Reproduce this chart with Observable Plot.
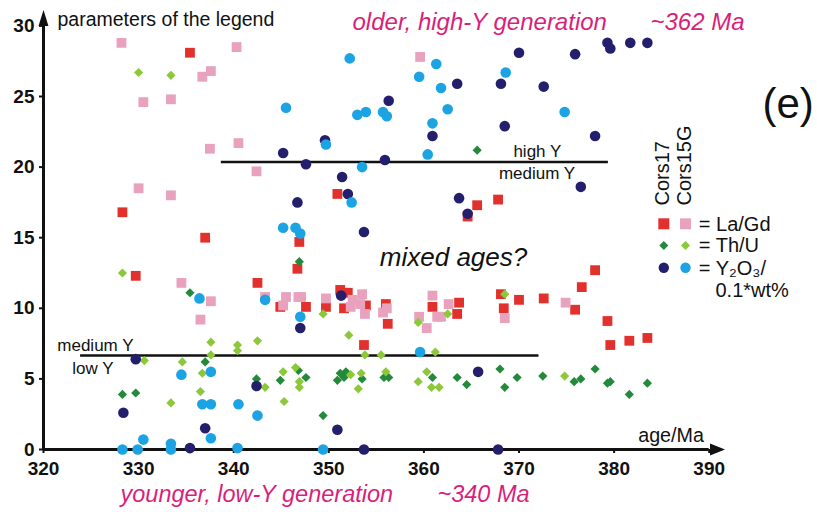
<!DOCTYPE html>
<html>
<head>
<meta charset="utf-8">
<script src="https://cdn.jsdelivr.net/npm/d3@7"></script>
<script src="https://cdn.jsdelivr.net/npm/@observablehq/plot@0.6"></script>
<style>
  html, body { margin: 0; padding: 0; background: #fff; }
  #chart svg { display: block; }
</style>
</head>
<body>
<div id="chart"></div>
<script>
// ---- data: [age (Ma), parameter value] ----
const cors17LaGd = [[335.4,28.1],[328.3,16.8],[329.7,12.3],[337.0,15.0],[342.5,11.8],[344.9,10.1],[350.9,18.1],[364.6,16.5],[365.6,17.3],[367.8,17.7],[346.9,14.7],[346.7,12.8],[347.6,10.1],[349.7,10.1],[351.2,11.3],[352.0,11.1],[351.6,10.0],[353.9,10.2],[356.0,10.3],[356.2,8.9],[353.7,7.4],[360.9,10.1],[363.7,10.4],[363.5,9.6],[368.1,11.0],[368.4,10.0],[370.0,10.6],[372.6,10.7],[376.6,11.5],[378.0,12.7],[375.9,9.9],[379.3,9.1],[379.6,7.4],[381.6,7.7],[383.5,7.9]];
const cors15GLaGd = [[328.2,28.8],[330.5,24.6],[333.4,24.8],[336.7,26.4],[337.6,26.8],[340.3,28.5],[337.5,21.3],[340.5,21.7],[330.0,18.5],[333.4,18.0],[342.4,19.7],[334.5,11.8],[337.6,10.5],[336.5,9.2],[343.3,10.8],[345.2,10.2],[345.5,10.8],[346.8,10.8],[347.1,10.8],[349.7,10.7],[352.3,10.1],[352.5,10.6],[353.3,10.3],[353.5,11.0],[353.8,9.6],[355.7,9.7],[356.1,10.0],[359.5,9.4],[360.3,8.6],[360.9,10.9],[361.4,9.4],[361.8,9.4],[362.6,10.3],[368.5,9.3],[359.6,27.8],[374.9,10.4]];
const cors17ThU = [[365.6,21.2],[346.9,13.3],[335.4,11.1],[328.3,3.9],[329.7,4.0],[337.0,6.2],[342.4,5.0],[344.9,4.9],[346.8,5.6],[347.6,5.1],[349.4,2.4],[350.9,4.9],[351.2,5.4],[351.6,5.1],[351.8,5.5],[353.5,5.0],[355.8,5.1],[356.3,5.1],[360.9,5.1],[363.5,5.1],[364.5,4.6],[368.0,5.7],[368.5,4.4],[369.8,5.1],[372.5,5.2],[375.8,4.8],[376.5,5.0],[378.0,5.7],[379.3,4.7],[379.6,4.8],[381.6,3.9],[383.5,4.7]];
const cors15GThU = [[330.0,26.7],[333.4,26.5],[328.3,12.5],[330.6,6.3],[334.6,6.2],[337.6,7.6],[337.6,6.7],[336.7,5.4],[336.5,4.1],[333.4,3.3],[340.4,7.4],[340.4,7.0],[342.5,7.7],[343.3,4.4],[345.2,5.5],[346.5,5.8],[346.9,4.8],[346.9,4.4],[345.3,3.4],[349.4,9.6],[352.1,8.1],[353.8,6.7],[355.5,6.7],[352.3,5.3],[353.4,5.4],[353.1,4.3],[356.0,5.5],[359.4,9.0],[359.4,4.8],[360.3,5.5],[360.8,4.4],[361.6,4.4],[361.2,6.9],[362.5,9.6],[368.5,11.0],[374.8,5.2]];
const cors17Y2O3 = [[370.0,28.1],[363.5,25.9],[368.1,25.9],[372.6,25.7],[356.3,24.7],[368.5,22.9],[360.9,22.2],[349.6,21.9],[345.2,21.0],[347.6,20.2],[355.9,20.5],[351.4,19.3],[352.0,18.1],[346.7,17.5],[363.7,17.8],[364.6,16.7],[353.7,15.4],[351.3,10.9],[347.0,8.6],[379.3,28.8],[379.6,28.4],[381.7,28.8],[383.5,28.8],[375.9,28.0],[378.0,22.2],[376.5,18.6],[329.7,6.4],[328.4,2.6],[337.0,1.5],[335.4,0.1],[342.4,4.5],[365.7,5.5],[350.9,1.4],[353.7,0],[367.8,0]];
const cors15GY2O3 = [[352.2,27.7],[361.3,27.3],[359.5,26.4],[361.8,25.6],[368.6,26.7],[345.5,24.2],[353.0,23.7],[353.9,23.9],[355.7,23.9],[356.1,23.6],[362.5,24.1],[360.9,23.1],[349.7,21.6],[360.4,20.9],[353.5,20.0],[374.8,23.9],[352.4,17.5],[345.2,15.7],[346.5,15.7],[347.0,15.3],[347.0,9.4],[336.4,10.7],[343.3,10.6],[334.5,5.3],[337.6,5.5],[336.7,3.2],[337.6,3.2],[340.5,3.2],[342.5,2.4],[337.6,0.8],[330.5,0.7],[328.3,0],[329.9,0],[333.4,0.4],[333.4,0],[340.4,0.1],[359.6,6.9],[349.4,0]];

const xTicks = [320, 330, 340, 350, 360, 370, 380, 390];
const yTicks = [0, 5, 10, 15, 20, 25, 30];

// boundaries between Y-content classes
const upperBoundary = {value: 20.36, from: 338.7, to: 379.4, above: "high Y", below: "medium Y"};
const lowerBoundary = {value: 6.66, from: 323.9, to: 372.1, above: "medium Y", below: "low Y"};

const legendRows = ["= La/Gd", "= Th/U", "= Y\u2082O\u2083/"];
const legendExtra = "0.1*wt%";
const sampleNames = ["Cors17", "Cors15G"];

// ---- styling ----
const C = {
  red: "#e2312c", pink: "#e9a2bd",
  dgreen: "#238a3c", lgreen: "#8cc83a",
  navy: "#241f6c", lblue: "#1ba3e3",
  magenta: "#d91f7b"
};
const FONT = "'Liberation Sans', Arial, Helvetica, sans-serif";

const sqSym = {draw(ctx, size) { const r = Math.sqrt(size / Math.PI); ctx.moveTo(-r, -r); ctx.lineTo(r, -r); ctx.lineTo(r, r); ctx.lineTo(-r, r); ctx.closePath(); }};
const diaSym = {draw(ctx, size) { const r = Math.sqrt(size / Math.PI); ctx.moveTo(0, -r); ctx.lineTo(r, 0); ctx.lineTo(0, r); ctx.lineTo(-r, 0); ctx.closePath(); }};
const triUp = {draw(ctx, size) { const r = Math.sqrt(size / Math.PI); ctx.moveTo(0, -r); ctx.lineTo(r * 0.62, r); ctx.lineTo(-r * 0.62, r); ctx.closePath(); }};
const triRight = {draw(ctx, size) { const r = Math.sqrt(size / Math.PI); ctx.moveTo(r, 0); ctx.lineTo(-r, r * 0.8); ctx.lineTo(-r, -r * 0.8); ctx.closePath(); }};

const px = {x: d => d[0], y: d => d[1]};
const series = (data, symbol, r, fill) => Plot.dot(data, {...px, symbol, r, fill, stroke: "none"});

const T = (text, dx, dy, opts = {}) => Plot.text([text], {
  frameAnchor: "top-left", lineAnchor: "middle", dx, dy, text: d => d, textAnchor: "start",
  fontSize: 17, fill: "#111", fontFamily: FONT, ...opts
});
const LD = (symbol, r, fill, dx, dy) => Plot.dot([0], {frameAnchor: "top-left", dx, dy, symbol, r, fill, stroke: "none"});

const legendSymbols = [[sqSym, 5.5, C.red, C.pink], [diaSym, 4.5, C.dgreen, C.lgreen], ["circle", 5.2, C.navy, C.lblue]];
const legendDy = [197.9, 219.6, 241.9];

const chart = Plot.plot({
  width: 817, height: 512,
  marginLeft: 43, marginRight: 108.3, marginTop: 25.4, marginBottom: 63,
  style: {fontFamily: FONT, fontSize: "19px", background: "white", overflow: "visible"},
  x: {domain: [320, 390], ticks: xTicks, tickSize: 4, tickPadding: 8, label: null},
  y: {domain: [0, 30], ticks: yTicks, tickSize: 4, tickPadding: 5, label: null},
  marks: [
    // axes lines with arrows
    Plot.ruleX([xTicks[0]], {y1: yTicks[0], y2: yTicks[yTicks.length - 1], stroke: "#111", strokeWidth: 3}),
    Plot.ruleY([yTicks[0]], {x1: xTicks[0], x2: xTicks[xTicks.length - 1], stroke: "#111", strokeWidth: 3}),
    Plot.dot([0], {frameAnchor: "top-left", dy: -8, symbol: triUp, r: 8, fill: "#111", stroke: "none"}),
    Plot.dot([0], {frameAnchor: "bottom-right", dx: 8.3, symbol: triRight, r: 7.5, fill: "#111", stroke: "none"}),

    // boundary lines
    Plot.ruleY([upperBoundary], {y: "value", x1: "from", x2: "to", stroke: "#111", strokeWidth: 2.5}),
    Plot.ruleY([lowerBoundary], {y: "value", x1: "from", x2: "to", stroke: "#111", strokeWidth: 2.5}),
    Plot.text([upperBoundary], {x: "to", y: "value", text: "above", dx: -95, dy: -10, textAnchor: "start", fontSize: 17, fontFamily: FONT, fill: "#111"}),
    Plot.text([upperBoundary], {x: "to", y: "value", text: "below", dx: -109.5, dy: 12, textAnchor: "start", fontSize: 17, fontFamily: FONT, fill: "#111"}),
    Plot.text([lowerBoundary], {x: "from", y: "value", text: "above", dx: -23.3, dy: -10.4, textAnchor: "start", fontSize: 17, fontFamily: FONT, fill: "#111"}),
    Plot.text([lowerBoundary], {x: "from", y: "value", text: "below", dx: -8.3, dy: 12.9, textAnchor: "start", fontSize: 17, fontFamily: FONT, fill: "#111"}),

    // data
    series(cors17LaGd, sqSym, 4.9, C.red),
    series(cors15GLaGd, sqSym, 4.9, C.pink),
    series(cors17ThU, diaSym, 4.6, C.dgreen),
    series(cors15GThU, diaSym, 4.6, C.lgreen),
    series(cors17Y2O3, "circle", 5.3, C.navy),
    series(cors15GY2O3, "circle", 5.3, C.lblue),

    // annotations
    T("parameters of the legend", 14, -6.6, {fontSize: 19.5}),
    T("older, high-Y generation", 309, -3.1, {fontSize: 24, fontStyle: "italic", fill: C.magenta}),
    T("~362 Ma", 607, -3.1, {fontSize: 24, fontStyle: "italic", fill: C.magenta}),
    T("(e)", 719, 79, {fontSize: 42}),
    T(sampleNames[0], 618.7, 179.6, {fontSize: 20, rotate: -90}),
    T(sampleNames[1], 641, 179.6, {fontSize: 20, rotate: -90}),
    T("mixed ages?", 336.3, 231.3, {fontSize: 26, fontStyle: "italic"}),
    T("age/Ma", 594.7, 410, {fontSize: 19.7}),
    T("younger, low-Y generation", 77, 469, {fontSize: 23.5, fontStyle: "italic", fill: C.magenta}),
    T("~340 Ma", 394, 469, {fontSize: 23.5, fontStyle: "italic", fill: C.magenta}),

    // legend
    ...legendSymbols.flatMap(([sym, r, c17, c15], i) => [
      LD(sym, r, c17, 620.3, legendDy[i]),
      LD(sym, r, c15, 642, legendDy[i]),
      T(legendRows[i], 655.3, legendDy[i] + 0.3, {fontSize: 20})
    ]),
    T(legendExtra, 672, 264.9, {fontSize: 20})
  ]
});
// bold, heavier axis tick labels and ticks
d3.select(chart).selectAll('g[aria-label*="axis"] text')
  .style("font-weight", "bold").style("font-size", "19px").style("fill", "#111");
d3.select(chart).selectAll('g[aria-label*="axis"] path, g[aria-label*="axis"] line')
  .style("stroke-width", "2px").style("stroke", "#111");
document.getElementById("chart").appendChild(chart);
</script>
</body>
</html>
